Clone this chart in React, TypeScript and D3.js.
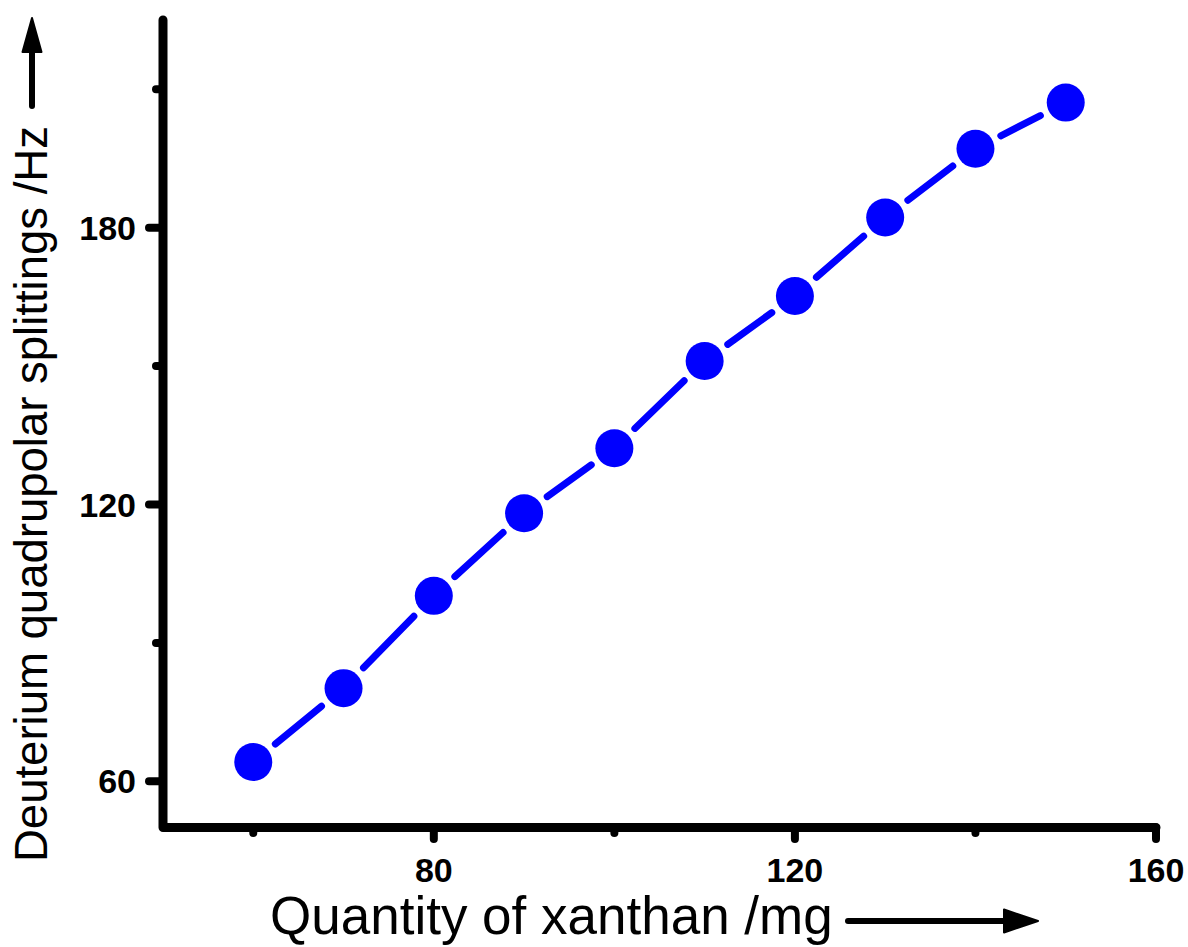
import React from "react";
import * as d3 from "d3";

const xValues = [60, 70, 80, 90, 100, 110, 120, 130, 140, 150];
const yValues = [64.2, 80.2, 100.2, 118.1, 132.2, 151.1, 165.2, 182.2, 197.1, 207.1];
const xMajorTicks = [80, 120, 160];
const xMinorTicks = [60, 100, 140];
const yMajorTicks = [60, 120, 180];
const yMinorTicks = [90, 150, 210];
const xTitle = "Quantity of xanthan /mg";
const yTitle = "Deuterium quadrupolar splittings /Hz";

const W = 1188;
const H = 947;
const FONT = "'Liberation Sans', Arial, Helvetica, sans-serif";

export default function App() {
  const x = d3.scaleLinear().domain([50, 160]).range([163, 1156]);
  const y = d3.scaleLinear().domain([50, 225]).range([827.5, 20]);
  const x0 = x(50);
  const y0 = y(50);
  const blue = "#0000FF";
  const gap = 28.5;
  const pts = xValues.map((v, i) => [x(v), y(yValues[i])] as [number, number]);
  const segs: { a: [number, number]; b: [number, number] }[] = [];
  for (let i = 0; i < pts.length - 1; i++) {
    const [ax, ay] = pts[i];
    const [bx, by] = pts[i + 1];
    const len = Math.hypot(bx - ax, by - ay);
    const ux = (bx - ax) / len;
    const uy = (by - ay) / len;
    segs.push({ a: [ax + ux * gap, ay + uy * gap], b: [bx - ux * gap, by - uy * gap] });
  }
  const line = d3.line();
  const axisPath = line([
    [x0, y(225)],
    [x0, y0],
    [x(160), y0],
  ]) as string;

  return (
    <svg
      width={W}
      height={H}
      style={{ position: "absolute", left: 0, top: 0, background: "#fff" }}
    >
      <rect x={0} y={0} width={W} height={H} fill="#fff" />
      {segs.map((s, i) => (
        <path
          key={"s" + i}
          d={line([s.a, s.b]) as string}
          stroke={blue}
          strokeWidth={7}
          strokeLinecap="round"
          fill="none"
        />
      ))}
      {pts.map((p, i) => (
        <circle key={"c" + i} cx={p[0]} cy={p[1]} r={19} fill={blue} />
      ))}
      <path d={axisPath} stroke="#000" strokeWidth={9} fill="none" strokeLinejoin="round" strokeLinecap="round" />
      {xMajorTicks.map((t) => (
        <g key={"xm" + t}>
          <line x1={x(t)} x2={x(t)} y1={y0} y2={839} stroke="#000" strokeWidth={8} strokeLinecap="round" />
          <text x={x(t)} y={882} textAnchor="middle" fontFamily={FONT} fontWeight="bold" fontSize={34} fill="#000">
            {t}
          </text>
        </g>
      ))}
      {xMinorTicks.map((t) => (
        <line key={"xn" + t} x1={x(t)} x2={x(t)} y1={y0} y2={833} stroke="#000" strokeWidth={8} strokeLinecap="round" />
      ))}
      {yMajorTicks.map((t) => (
        <g key={"ym" + t}>
          <line x1={x0} x2={149} y1={y(t)} y2={y(t)} stroke="#000" strokeWidth={8} strokeLinecap="round" />
          <text x={136} y={y(t) + 12} textAnchor="end" fontFamily={FONT} fontWeight="bold" fontSize={34} fill="#000">
            {t}
          </text>
        </g>
      ))}
      {yMinorTicks.map((t) => (
        <line key={"yn" + t} x1={x0} x2={156} y1={y(t)} y2={y(t)} stroke="#000" strokeWidth={8} strokeLinecap="round" />
      ))}
      <text x={270} y={934} fontFamily={FONT} fontSize={53} fill="#000">
        {xTitle}
      </text>
      <line x1={848} x2={1008} y1={921} y2={921} stroke="#000" strokeWidth={6} strokeLinecap="round" />
      <path d="M1004,909.5 L1038,921 L1004,932.5 Z" fill="#000" stroke="#000" strokeWidth={2} strokeLinejoin="round" />
      <text
        transform="translate(47,862) rotate(-90)"
        fontFamily={FONT}
        fontSize={45.5}
        fill="#000"
      >
        {yTitle}
      </text>
      <line x1={32} x2={32} y1={106} y2={48} stroke="#000" strokeWidth={6} strokeLinecap="round" />
      <path d="M22.5,52 L32,18 L41.5,52 Z" fill="#000" stroke="#000" strokeWidth={2} strokeLinejoin="round" />
    </svg>
  );
}
